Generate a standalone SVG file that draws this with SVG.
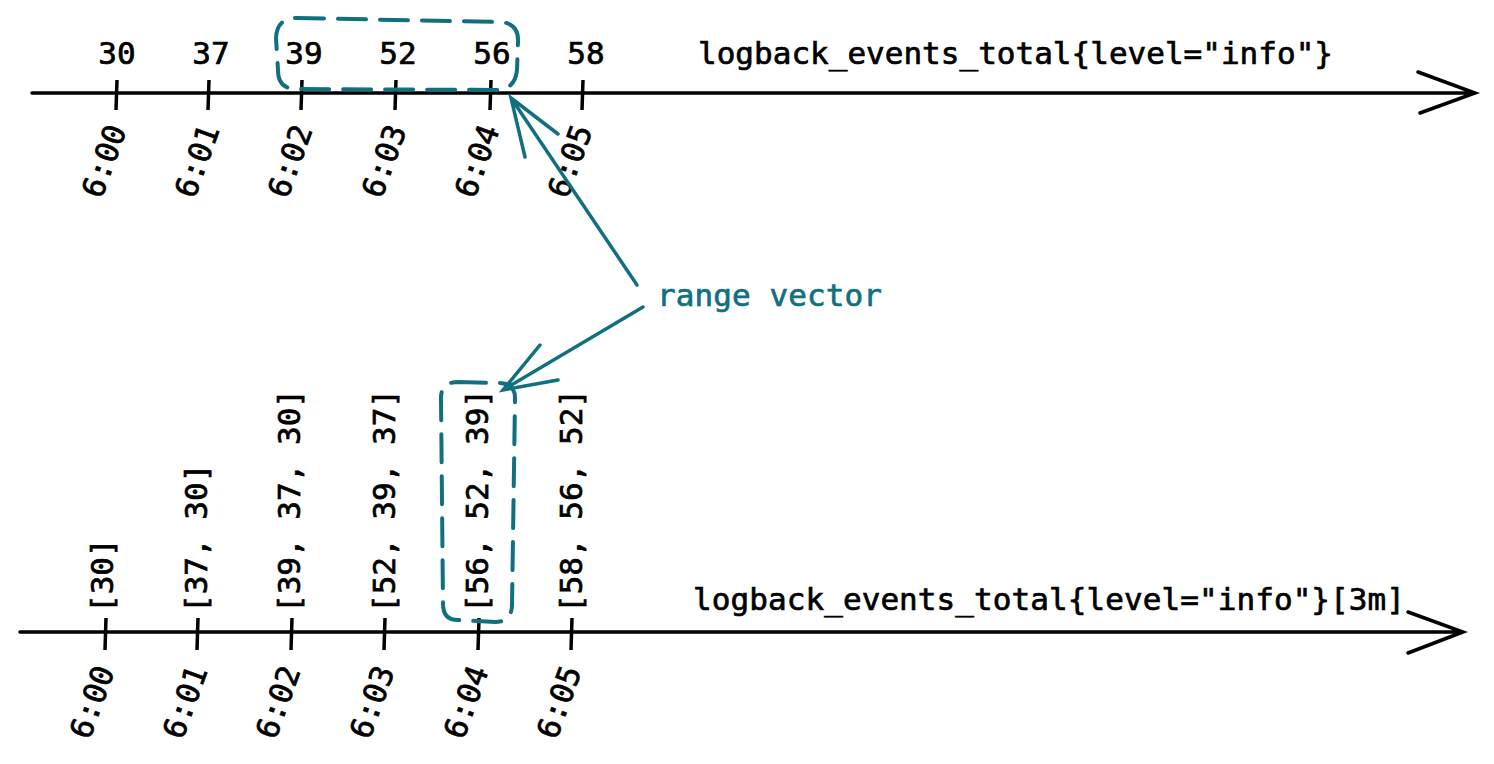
<svg xmlns="http://www.w3.org/2000/svg" width="1494" height="764" viewBox="0 0 1494 764">
<style>
text{font-family:"DejaVu Sans Mono","Liberation Mono",monospace;font-size:31px;fill:#000;stroke:#000;stroke-width:0.7}
.teal{fill:#11707f;stroke:#11707f}
.ax{stroke:#000;stroke-width:3.5;fill:none;stroke-linecap:round}
.tk{stroke:#000;stroke-width:3.5;fill:none}
.con{stroke:#11707f;stroke-width:3.5;fill:none;stroke-linecap:round}
.box{stroke:#11707f;stroke-width:4;fill:none;stroke-dasharray:28 14;stroke-linecap:round}
.tm{text-anchor:middle}
</style>
<rect width="1494" height="764" fill="#fff"/>
<g id="top-axis">
<path class="ax" d="M32,93 L1475,93 M1418,72 L1475,93 L1420,113"/>
<path class="tk" d="M117,80 L116,110 M209,80 L208,110 M302,80 L301,110 M396,80 L395,110 M491,80 L490,110 M583,80 L582,110"/>
<text class="tm" x="117" y="64">30</text>
<text class="tm" x="211" y="64">37</text>
<text class="tm" x="304" y="64">39</text>
<text class="tm" x="398" y="64">52</text>
<text class="tm" x="492" y="64">56</text>
<text class="tm" x="586" y="64">58</text>
<text class="tm" transform="translate(104,161) rotate(-70)" dy="0.35em">6:00</text>
<text class="tm" transform="translate(197,161) rotate(-70)" dy="0.35em">6:01</text>
<text class="tm" transform="translate(290,161) rotate(-70)" dy="0.35em">6:02</text>
<text class="tm" transform="translate(384,161) rotate(-70)" dy="0.35em">6:03</text>
<text class="tm" transform="translate(477,161) rotate(-70)" dy="0.35em">6:04</text>
<text class="tm" transform="translate(570,161) rotate(-70)" dy="0.35em">6:05</text>
<text x="698" y="64" textLength="635">logback_events_total{level="info"}</text>
</g>
<g id="top-range">
<path class="box" d="M296,18 L500,22 Q519,23 518,42 L517,70 Q515,90 496,90 L296,89 Q278,89 278,70 L276,38 Q277,18 296,18 Z"/>
</g>
<g id="bottom-axis">
<path class="ax" d="M20,632 L1463,632 M1408,612 L1463,632 L1408,653"/>
<path class="tk" d="M106,618 L105,650 M198,618 L197,650 M292,618 L291,650 M385,618 L384,650 M479,618 L478,650 M572,618 L571,650"/>
<text class="tm" transform="translate(92,702) rotate(-70)" dy="0.35em">6:00</text>
<text class="tm" transform="translate(185,702) rotate(-70)" dy="0.35em">6:01</text>
<text class="tm" transform="translate(278,702) rotate(-70)" dy="0.35em">6:02</text>
<text class="tm" transform="translate(372,702) rotate(-70)" dy="0.35em">6:03</text>
<text class="tm" transform="translate(466,702) rotate(-70)" dy="0.35em">6:04</text>
<text class="tm" transform="translate(559,702) rotate(-70)" dy="0.35em">6:05</text>
<text transform="translate(113,613) rotate(-90)">[30]</text>
<text transform="translate(207,613) rotate(-90)">[37, 30]</text>
<text transform="translate(300,613) rotate(-90)">[39, 37, 30]</text>
<text transform="translate(395,613) rotate(-90)">[52, 39, 37]</text>
<text transform="translate(488,613) rotate(-90)">[56, 52, 39]</text>
<text transform="translate(582,613) rotate(-90)">[58, 56, 52]</text>
<text x="693" y="610" textLength="712">logback_events_total{level="info"}[3m]</text>
</g>
<g id="bottom-range">
<path class="box" d="M458,382 L500,383 Q516,384 515,400 L512,606 Q511,622 495,622 L458,620 Q443,620 443,604 L441,398 Q441,382 458,382 Z"/>
</g>
<g id="range-vector">
<text class="teal" x="657" y="306" textLength="225">range vector</text>
</g>
<g id="connectors">
<path class="con" d="M637,285 L511,98 M525,157 L511,98 L558,134"/>
<path class="con" d="M643,307 L503,390 M540,345 L503,390 L558,380"/>
</g>
</svg>
